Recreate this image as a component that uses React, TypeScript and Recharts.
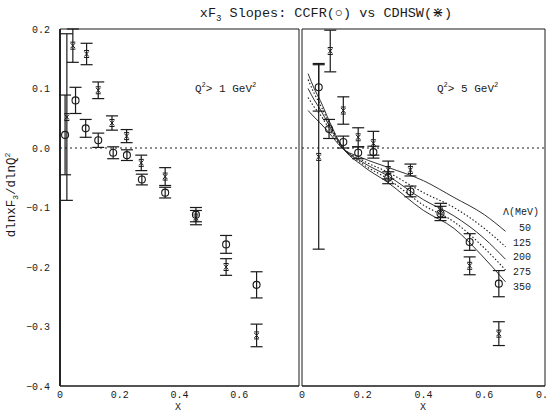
import React from "react";
import {
  ComposedChart,
  ErrorBar,
  Line,
  ReferenceArea,
  ReferenceLine,
  Scatter,
  XAxis,
  YAxis,
} from "recharts";

const INK = "#1a1a1a";
const FONT = "'Liberation Mono', 'DejaVu Sans Mono', monospace";

const yTicks = [-0.4, -0.3, -0.2, -0.1, 0, 0.1, 0.2];
const leftXTicks = [0, 0.2, 0.4, 0.6];
const rightXTicks = [0, 0.2, 0.4, 0.6, 0.8];

// Q^2 > 1 GeV^2 panel
const lowCcfrX = [0.017, 0.052, 0.086, 0.128, 0.178, 0.224, 0.274, 0.352, 0.455, 0.556, 0.658];
const lowCcfrY = [0.022, 0.08, 0.033, 0.013, -0.008, -0.012, -0.053, -0.075, -0.112, -0.162, -0.23];
const lowCcfrErr = [0.067, 0.022, 0.015, 0.012, 0.01, 0.009, 0.009, 0.009, 0.012, 0.015, 0.022];

const lowCdhswX = [0.023, 0.043, 0.089, 0.128, 0.174, 0.223, 0.272, 0.352, 0.455, 0.556, 0.658];
const lowCdhswY = [0.052, 0.172, 0.158, 0.097, 0.042, 0.02, -0.025, -0.048, -0.117, -0.2, -0.315];
const lowCdhswErr = [0.14, 0.028, 0.018, 0.014, 0.012, 0.011, 0.013, 0.015, 0.012, 0.014, 0.019];

// Q^2 > 5 GeV^2 panel
const highCcfrX = [0.055, 0.089, 0.136, 0.185, 0.235, 0.284, 0.357, 0.456, 0.552, 0.648];
const highCcfrY = [0.102, 0.032, 0.01, -0.008, -0.007, -0.05, -0.073, -0.11, -0.158, -0.228];
const highCcfrErr = [0.04, 0.016, 0.01, 0.01, 0.01, 0.01, 0.009, 0.012, 0.014, 0.022];

const highCdhswX = [0.055, 0.093, 0.136, 0.185, 0.235, 0.284, 0.357, 0.456, 0.552, 0.648];
const highCdhswY = [-0.015, 0.163, 0.063, 0.018, 0.008, -0.037, -0.037, -0.105, -0.198, -0.312];
const highCdhswErr = [0.155, 0.035, 0.023, 0.016, 0.02, 0.015, 0.01, 0.012, 0.015, 0.02];

// QCD predictions for several Lambda values
const curveX = [0.02, 0.04, 0.06, 0.09, 0.13, 0.2, 0.28, 0.4, 0.5, 0.6, 0.67];
const lambda50 = [0.063, 0.052, 0.042, 0.025, 0.001, -0.017, -0.032, -0.055, -0.083, -0.112, -0.14];
const lambda125 = [0.085, 0.069, 0.056, 0.032, 0.002, -0.021, -0.04, -0.075, -0.1, -0.135, -0.166];
const lambda200 = [0.1, 0.081, 0.065, 0.037, 0.003, -0.024, -0.046, -0.087, -0.114, -0.152, -0.187];
const lambda275 = [0.115, 0.092, 0.073, 0.041, 0.004, -0.027, -0.051, -0.096, -0.124, -0.168, -0.205];
const lambda350 = [0.125, 0.1, 0.08, 0.045, 0.004, -0.03, -0.057, -0.105, -0.135, -0.185, -0.225];
const lambdaLabels = ["50", "125", "200", "275", "350"];

const toPoints = (xs: number[], ys: number[], errs?: number[]) =>
  xs.map((x, i) => ({ x, y: ys[i], err: errs ? errs[i] : 0 }));

const curves = [
  { values: lambda50, dotted: false },
  { values: lambda125, dotted: true },
  { values: lambda200, dotted: false },
  { values: lambda275, dotted: true },
  { values: lambda350, dotted: false },
];

const OpenCircle = (p: any) => (
  <circle cx={p.cx} cy={p.cy} r={3.5} fill="none" stroke={INK} strokeWidth={1.1} />
);

const Cross = (p: any) => {
  const { cx, cy } = p;
  const d = `M${cx - 2.2},${cy - 2.5}L${cx + 2.2},${cy + 2.5}M${cx + 2.2},${cy - 2.5}L${cx - 2.2},${cy + 2.5}M${cx - 2.5},${cy - 3.5}h5M${cx - 2.5},${cy + 3.5}h5`;
  return <path d={d} stroke={INK} strokeWidth={1} fill="none" />;
};

const fmtY = (v: number) => (v === 0 ? "0.0" : v < 0 ? `−${Math.abs(v).toFixed(1)}` : v.toFixed(1));
const fmtX = (v: number) => (v === 0 ? "0" : v.toFixed(1));

interface PanelProps {
  width: number;
  marginLeft: number;
  yAxisWidth: number;
  showYTicks: boolean;
  xTicks: number[];
  ccfr: { x: number; y: number; err: number }[];
  cdhsw: { x: number; y: number; err: number }[];
  withCurves: boolean;
}

const Panel: React.FC<PanelProps> = ({
  width,
  marginLeft,
  yAxisWidth,
  showYTicks,
  xTicks,
  ccfr,
  cdhsw,
  withCurves,
}) => (
  <ComposedChart
    width={width}
    height={415}
    margin={{ top: 29, right: width > 250 ? 3 : 0, bottom: 0, left: marginLeft }}
  >
    <XAxis
      dataKey="x"
      type="number"
      domain={[0, 0.8]}
      allowDataOverflow
      ticks={xTicks}
      tickFormatter={fmtX}
      height={29}
      tickSize={0}
      tickMargin={5}
      tickLine={false}
      axisLine={{ stroke: INK, strokeWidth: 1.2 }}
      tick={{ fill: INK, fontSize: 10, fontFamily: FONT }}
      interval={0}
    />
    <YAxis
      dataKey="y"
      type="number"
      domain={[-0.4, 0.2]}
      allowDataOverflow
      ticks={yTicks}
      tickFormatter={fmtY}
      width={yAxisWidth}
      tick={showYTicks ? { fill: INK, fontSize: 10, fontFamily: FONT } : false}
      tickSize={0}
      tickMargin={10}
      tickLine={false}
      axisLine={{ stroke: INK, strokeWidth: 1.8 }}
      interval={0}
    />
    <ReferenceArea
      x1={0}
      x2={0.8}
      y1={-0.4}
      y2={0.2}
      fill="none"
      stroke={INK}
      strokeWidth={1}
    />
    <ReferenceLine y={0} stroke={INK} strokeDasharray="2 3" strokeWidth={1} />
    {withCurves &&
      curves.map((c, i) => (
        <Line
          key={i}
          data={toPoints(curveX, c.values)}
          dataKey="y"
          type="monotone"
          dot={false}
          stroke={INK}
          strokeWidth={c.dotted ? 1.1 : 0.9}
          strokeDasharray={c.dotted ? "1.5 2" : undefined}
          isAnimationActive={false}
        />
      ))}
    <Scatter data={ccfr} dataKey="y" shape={OpenCircle} isAnimationActive={false}>
      <ErrorBar dataKey="err" direction="y" width={6} stroke={INK} strokeWidth={1.2} />
    </Scatter>
    <Scatter data={cdhsw} dataKey="y" shape={Cross} isAnimationActive={false}>
      <ErrorBar dataKey="err" direction="y" width={6} stroke={INK} strokeWidth={1.2} />
    </Scatter>
  </ComposedChart>
);

const txt: React.CSSProperties = {
  position: "absolute",
  fontFamily: FONT,
  color: INK,
  whiteSpace: "nowrap",
  lineHeight: 1,
};

export default function App() {
  return (
    <div
      style={{
        position: "absolute",
        left: 0,
        top: 0,
        width: 548,
        height: 415,
        background: "#fff",
        overflow: "hidden",
      }}
    >
      <div style={{ position: "absolute", left: 0, top: 0 }}>
        <Panel
          width={302}
          marginLeft={0}
          yAxisWidth={60}
          showYTicks
          xTicks={leftXTicks}
          ccfr={toPoints(lowCcfrX, lowCcfrY, lowCcfrErr)}
          cdhsw={toPoints(lowCdhswX, lowCdhswY, lowCdhswErr)}
          withCurves={false}
        />
      </div>
      <div style={{ position: "absolute", left: 292, top: 0 }}>
        <Panel
          width={256}
          marginLeft={10}
          yAxisWidth={0}
          showYTicks={false}
          xTicks={rightXTicks}
          ccfr={toPoints(highCcfrX, highCcfrY, highCcfrErr)}
          cdhsw={toPoints(highCdhswX, highCdhswY, highCdhswErr)}
          withCurves
        />
      </div>

      <div style={{ ...txt, left: 326, top: 7, fontSize: 13.5, transform: "translateX(-50%)" }}>
        xF<sub style={{ fontSize: 9 }}>3</sub> Slopes: CCFR(○) vs CDHSW(⋇)
      </div>

      <div
        style={{
          ...txt,
          left: 12,
          top: 195,
          fontSize: 12.5,
          transform: "translate(-50%, -50%) rotate(-90deg)",
        }}
      >
        dlnxF<sub style={{ fontSize: 8 }}>3</sub>/dlnQ<sup style={{ fontSize: 8 }}>2</sup>
      </div>

      <div style={{ ...txt, left: 195, top: 82, fontSize: 11 }}>
        Q<sup style={{ fontSize: 7 }}>2</sup>&gt; 1 GeV<sup style={{ fontSize: 7 }}>2</sup>
      </div>
      <div style={{ ...txt, left: 437, top: 82, fontSize: 11 }}>
        Q<sup style={{ fontSize: 7 }}>2</sup>&gt; 5 GeV<sup style={{ fontSize: 7 }}>2</sup>
      </div>

      <div style={{ ...txt, left: 178, top: 403, fontSize: 10, transform: "translateX(-50%)" }}>X</div>
      <div style={{ ...txt, left: 423, top: 403, fontSize: 10, transform: "translateX(-50%)" }}>X</div>

      <div style={{ ...txt, left: 503, top: 208, fontSize: 10 }}>Λ(MeV)</div>
      {lambdaLabels.map((l, i) => (
        <div key={l} style={{ ...txt, left: l.length < 3 ? 519 : 513, top: 224 + i * 14.7, fontSize: 10 }}>
          {l}
        </div>
      ))}
    </div>
  );
}
